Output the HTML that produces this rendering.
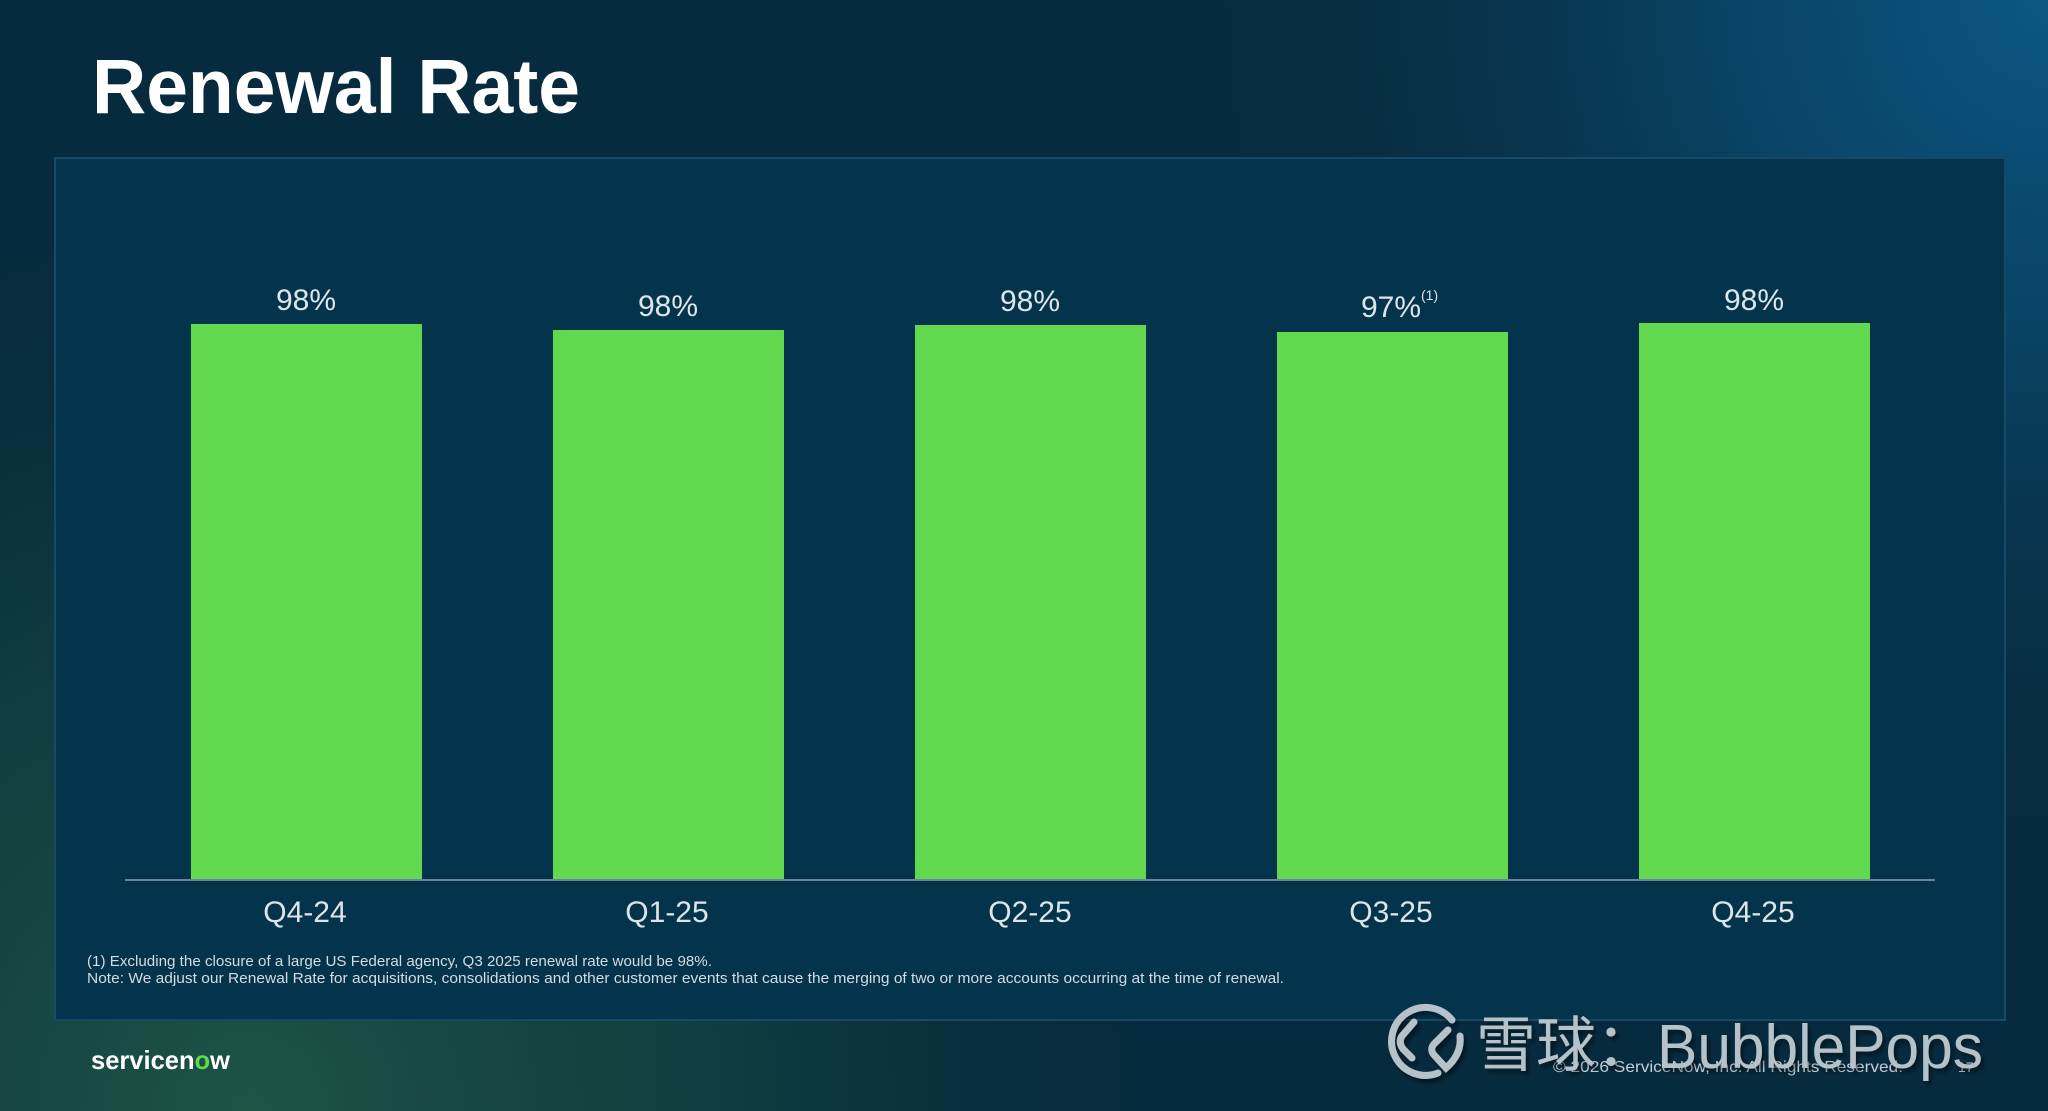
<!DOCTYPE html>
<html><head><meta charset="utf-8"><style>
html,body{margin:0;padding:0;}
body{width:2048px;height:1111px;overflow:hidden;background:#072b3e;}
svg{display:block;}
</style></head><body>
<svg width="2048" height="1111" viewBox="0 0 2048 1111" xmlns="http://www.w3.org/2000/svg">
<defs>
<radialGradient id="gTR" cx="2048" cy="0" r="900" gradientUnits="userSpaceOnUse">
<stop offset="0" stop-color="#0b5784"/>
<stop offset="0.35" stop-color="#0a4a70" stop-opacity="0.8"/>
<stop offset="1" stop-color="#072b3e" stop-opacity="0"/>
</radialGradient>
<radialGradient id="gBL" cx="250" cy="1111" r="950" gradientUnits="userSpaceOnUse">
<stop offset="0" stop-color="#1d5446"/>
<stop offset="0.5" stop-color="#154640" stop-opacity="0.65"/>
<stop offset="1" stop-color="#072b3e" stop-opacity="0"/>
</radialGradient>
<filter id="sh" x="-10%" y="-10%" width="130%" height="140%">
<feDropShadow dx="3" dy="4" stdDeviation="2" flood-color="#000" flood-opacity="0.45"/>
</filter>
</defs>
<rect width="2048" height="1111" fill="#072b3e"/>
<rect width="2048" height="1111" fill="url(#gBL)"/>
<rect width="2048" height="1111" fill="url(#gTR)"/>

<!-- title -->
<text x="92" y="113" font-family="Liberation Sans, sans-serif" font-weight="bold" font-size="77" fill="#ffffff" textLength="488" lengthAdjust="spacingAndGlyphs">Renewal Rate</text>

<!-- panel -->
<rect x="55" y="158" width="1950" height="862" fill="#03344c" stroke="#164a68" stroke-width="2"/>

<!-- bars -->
<g fill="#62d84f">
<rect x="191" y="324" width="231" height="555"/>
<rect x="553" y="330" width="231" height="549"/>
<rect x="915" y="325" width="231" height="554"/>
<rect x="1277" y="332" width="231" height="547"/>
<rect x="1639" y="323" width="231" height="556"/>
</g>
<line x1="125" y1="880" x2="1935" y2="880" stroke="#6a8596" stroke-width="2"/>

<!-- value labels -->
<g font-family="Liberation Sans, sans-serif" font-size="30" fill="#dce5ea" text-anchor="middle">
<text x="306" y="310">98%</text>
<text x="668" y="316">98%</text>
<text x="1030" y="311">98%</text>
<text x="1391" y="317">97%</text>
<text x="1754" y="310">98%</text>
</g>
<text x="1421" y="300" font-family="Liberation Sans, sans-serif" font-size="14" fill="#dce5ea">(1)</text>

<!-- category labels -->
<g font-family="Liberation Sans, sans-serif" font-size="30" fill="#dce5ea" text-anchor="middle">
<text x="305" y="922">Q4-24</text>
<text x="667" y="922">Q1-25</text>
<text x="1030" y="922">Q2-25</text>
<text x="1391" y="922">Q3-25</text>
<text x="1753" y="922">Q4-25</text>
</g>

<!-- footnotes -->
<g font-family="Liberation Sans, sans-serif" font-size="14.5" fill="#d2dce2">
<text x="87" y="966" textLength="625" lengthAdjust="spacingAndGlyphs">(1) Excluding the closure of a large US Federal agency, Q3 2025 renewal rate would be 98%.</text>
<text x="87" y="983" textLength="1197" lengthAdjust="spacingAndGlyphs">Note: We adjust our Renewal Rate for acquisitions, consolidations and other customer events that cause the merging of two or more accounts occurring at the time of renewal.</text>
</g>

<!-- servicenow logo -->
<text x="91" y="1069" font-family="Liberation Sans, sans-serif" font-weight="bold" font-size="26" fill="#ffffff" textLength="139" lengthAdjust="spacingAndGlyphs">servicen<tspan fill="#62d84f">o</tspan>w</text>

<!-- copyright -->
<text x="1553" y="1072" font-family="Liberation Sans, sans-serif" font-size="16" fill="#c4ced4" textLength="350" lengthAdjust="spacingAndGlyphs">© 2026 ServiceNow, Inc. All Rights Reserved.</text>
<text x="1958" y="1072" font-family="Liberation Sans, sans-serif" font-size="14" fill="#c4ced4">17</text>

<!-- watermark -->
<g filter="url(#sh)" fill="none" stroke="#b6c2ca" stroke-width="7" stroke-linecap="round">
<path d="M1452 1020 A34 34 0 1 0 1438 1073"/>
<path d="M1414 1022 L1402 1036 Q1398 1042 1403 1049 L1412 1058"/>
<path d="M1448 1030 L1434 1044 Q1429 1050 1435 1056 L1446 1068 Q1462 1054 1460 1036"/>
</g>
<text x="1476" y="1066" filter="url(#sh)" font-family="Liberation Sans, Noto Sans CJK SC, sans-serif" font-size="60" fill="#b6c2ca">雪球：</text>
<text x="1657" y="1068" filter="url(#sh)" font-family="Liberation Sans, sans-serif" font-size="62" fill="#b6c2ca" textLength="326" lengthAdjust="spacingAndGlyphs">BubblePops</text>
</svg>
</body></html>
